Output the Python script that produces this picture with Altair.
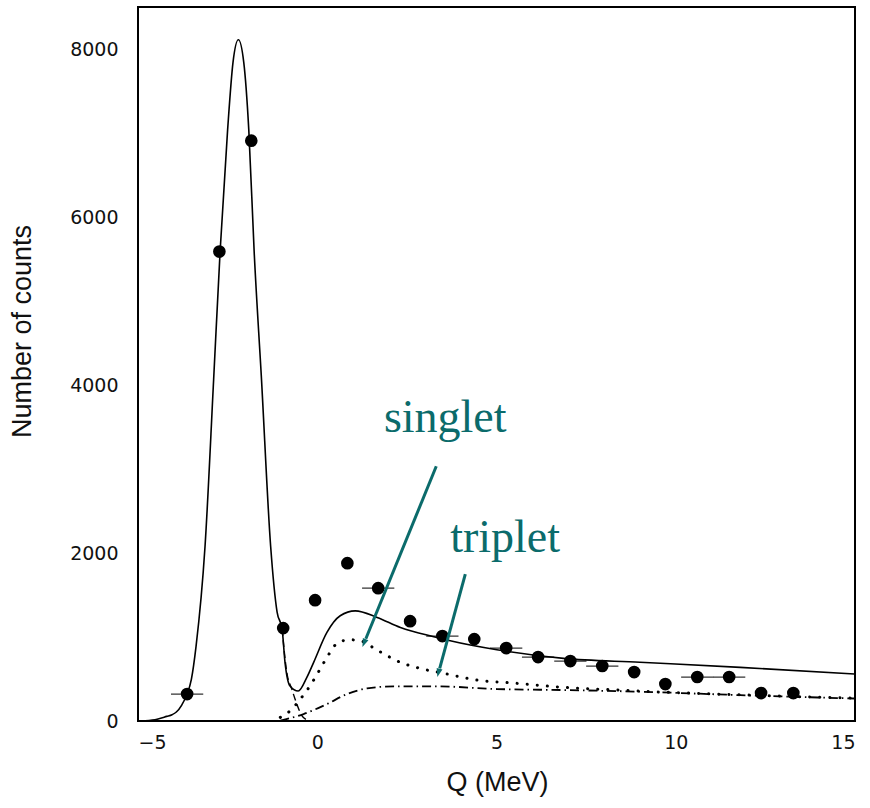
import math
import altair as alt
import pandas as pd

# ---------------- data ----------------
pt_q = [-3.63, -2.73, -1.84, -0.95, -0.06, 0.84, 1.70, 2.59, 3.49, 4.38,
        5.27, 6.16, 7.06, 7.95, 8.84, 9.71, 10.60, 11.49, 12.38, 13.28]
pt_n = [321, 5595, 6917, 1107, 1440, 1881, 1583, 1190, 1012, 976,
        869, 762, 714, 655, 583, 440, 524, 524, 333, 333]
pt_xerr = [0.45, 0, 0, 0, 0, 0, 0.45, 0, 0.45, 0,
           0.45, 0.45, 0.45, 0.45, 0, 0, 0.45, 0.45, 0, 0]

total_q = [-5.0, -4.8, -4.6, -4.44, -4.2, -4.05, -3.93, -3.78, -3.63, -3.51,
           -3.38, -3.13, -2.89, -2.71, -2.5, -2.35, -2.2, -2.05, -1.91, -1.76,
           -1.56, -1.30, -1.12, -0.98, -0.9, -0.76, -0.53, -0.29, -0.1, 0.27,
           0.64, 1.06, 1.67, 2.32, 3.34, 3.71, 5.01, 6.87, 9.0, 11.8, 15.0]
total_n = [0, 2, 10, 24, 55, 75, 107, 190, 321, 500,
           893, 2083, 4071, 5595, 7048, 7850, 8119, 7850, 7048, 5595,
           4107, 2083, 1298, 1095, 702, 417, 357, 520, 699, 1056,
           1254, 1313, 1235, 1115, 996, 956, 849, 746, 700, 639, 560]

peak_tail_q = [-0.98, -0.85, -0.71, -0.57, -0.43, -0.3, -0.15]
peak_tail_n = [1095, 580, 381, 202, 63, 15, 0]

singlet_q = [-1.03, -0.75, -0.47, -0.2, 0.08, 0.27, 0.59, 0.92, 1.2, 1.67,
             2.32, 2.87, 3.62, 4.45, 5.48, 6.87, 8.36, 9.3, 11.8, 15.0]
singlet_n = [44, 123, 262, 420, 619, 758, 937, 968, 956, 845,
             699, 627, 560, 488, 452, 401, 369, 350, 312, 272]

triplet_q = [-1.03, -0.38, 0.27, 0.83, 1.39, 2.13, 3.34, 5.01, 6.87, 9.01, 11.8, 15.0]
triplet_n = [4, 83, 202, 321, 389, 413, 413, 381, 369, 349, 308, 268]

label_text = ["singlet", "triplet"]
label_q = [3.57, 5.24]
label_n = [3440, 2012]
arrow_q0 = [3.32, 4.13]
arrow_n0 = [3036, 1750]
arrow_q1 = [1.26, 3.35]
arrow_n1 = [881, 524]

# ---------------- layout ----------------
W, H = 717, 714
XDOM = [-5, 15]
YDOM = [0, 8510]
TEAL = "#0b6b6b"

sx = W / (XDOM[1] - XDOM[0])
sy = H / (YDOM[1] - YDOM[0])

pts = pd.DataFrame({"q": pt_q, "n": pt_n, "xerr": pt_xerr})
pts["lo"] = pts["q"] - pts["xerr"]
pts["hi"] = pts["q"] + pts["xerr"]
bars = pts[pts["xerr"] > 0]

curves = pd.concat([
    pd.DataFrame({"q": total_q, "n": total_n, "c": "total"}),
    pd.DataFrame({"q": peak_tail_q, "n": peak_tail_n, "c": "tail"}),
    pd.DataFrame({"q": singlet_q, "n": singlet_n, "c": "singlet"}),
    pd.DataFrame({"q": triplet_q, "n": triplet_n, "c": "triplet"}),
])

# arrows: shorten shaft so it ends inside the head; head angle from pixel direction
rows = []
for q0, n0, q1, n1 in zip(arrow_q0, arrow_n0, arrow_q1, arrow_n1):
    dx = (q1 - q0) * sx
    dy = -(n1 - n0) * sy
    L = math.hypot(dx, dy)
    ux, uy = dx / L, dy / L
    back = 9
    qe = q1 - ux * back / sx
    ne = n1 + uy * back / sy
    ang = math.degrees(math.atan2(-dx, dy)) % 360
    rows.append({"q0": q0, "n0": n0, "qe": qe, "ne": ne, "q1": q1, "n1": n1, "ang": ang})
arrows = pd.DataFrame(rows)
labels = pd.DataFrame({"t": label_text, "q": label_q, "n": label_n})

xs = alt.Scale(domain=XDOM, nice=False, zero=False)
ys = alt.Scale(domain=YDOM, nice=False, zero=False)

xaxis = alt.Axis(values=[-5, 0, 5, 10, 15], title="Q (MeV)", labelPadding=12,
                 titleX=359, titleY=61, titleBaseline="middle", titleAlign="center",
                 titleFontSize=27)
yaxis = alt.Axis(values=[0, 2000, 4000, 6000, 8000], format="d", title="Number of counts",
                 labelPadding=20, titleX=-116, titleY=324, titleAngle=270,
                 titleBaseline="middle", titleAlign="center", titleFontSize=27)

X = alt.X("q:Q", scale=xs, axis=xaxis)
Y = alt.Y("n:Q", scale=ys, axis=yaxis)


def curve(name, **kw):
    return alt.Chart(curves).transform_filter(alt.datum.c == name).mark_line(
        interpolate="monotone", color="black", **kw
    ).encode(x=X, y=Y)


errbars = alt.Chart(bars).mark_rule(color="#333333", strokeWidth=1.2).encode(
    x=alt.X("lo:Q", scale=xs, axis=xaxis), x2="hi:Q", y=alt.Y("n:Q", scale=ys, axis=yaxis)
)

total = curve("total", strokeWidth=1.6)
tail = curve("tail", strokeWidth=1.4, strokeDash=[7, 4])
singlet = curve("singlet", strokeWidth=3, strokeDash=[0.1, 10], strokeCap="round")
triplet = curve("triplet", strokeWidth=1.8, strokeDash=[9, 4, 1.5, 4])

points = alt.Chart(pts).mark_circle(size=160, color="black", opacity=1).encode(x=X, y=Y)

shafts = alt.Chart(arrows).mark_rule(color=TEAL, strokeWidth=3).encode(
    x=alt.X("q0:Q", scale=xs, axis=xaxis), y=alt.Y("n0:Q", scale=ys, axis=yaxis),
    x2="qe:Q", y2="ne:Q"
)
heads = alt.Chart(arrows).mark_point(
    shape="M0,0L-0.6,-1.7L0.6,-1.7Z", size=100, filled=True, color=TEAL, opacity=1, strokeWidth=0
).encode(
    x=alt.X("q1:Q", scale=xs, axis=xaxis), y=alt.Y("n1:Q", scale=ys, axis=yaxis),
    angle=alt.Angle("ang:Q", scale=None)
)

texts = alt.Chart(labels).mark_text(
    font="Liberation Serif", fontSize=46, color=TEAL, align="center", baseline="alphabetic"
).encode(x=X, y=Y, text="t:N")

chart = alt.layer(
    errbars, triplet, singlet, tail, total, points, shafts, heads, texts
).properties(
    width=W, height=H,
    autosize=alt.AutoSizeParams(type="none"),
    padding={"left": 138, "top": 7, "right": 15, "bottom": 87},
    background="white",
).configure_view(
    stroke="black", strokeWidth=2
).configure_axis(
    grid=False, domain=False, ticks=False,
    labelFont="DejaVu Sans", labelFontSize=19, labelColor="#111111",
    titleFont="Liberation Sans", titleFontWeight="normal", titleColor="#111111",
)

chart.save("out.html", embed_options={"renderer": "svg", "actions": False})
